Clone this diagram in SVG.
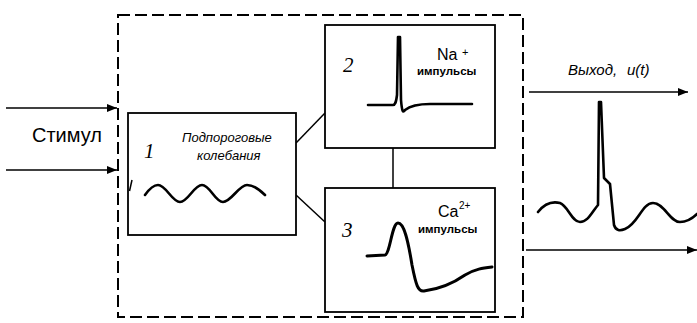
<svg xmlns="http://www.w3.org/2000/svg" width="697" height="323" viewBox="0 0 697 323">
<defs>
<style>
.box{fill:#fff;stroke:#000;stroke-width:1.8}
.dash{fill:none;stroke:#000;stroke-width:2;stroke-dasharray:12 5}
.ln{stroke:#000;stroke-width:1.5;fill:none}
.wave{fill:none;stroke:#000;stroke-width:2.6;stroke-linejoin:round;stroke-linecap:round}
.num{font-family:"Liberation Serif",serif;font-style:italic;font-size:21px;fill:#000}
.sans{font-family:"Liberation Sans",Arial,sans-serif;fill:#000}
.it{font-family:"Liberation Sans",Arial,sans-serif;font-style:italic;fill:#000}
.imp{font-family:"Liberation Sans",Arial,sans-serif;font-weight:bold;font-size:11.5px;fill:#000}
</style>
<marker id="ah" markerWidth="10" markerHeight="8" refX="10" refY="4" orient="auto" markerUnits="userSpaceOnUse">
<path d="M0,0 L10,4 L0,8 Z" fill="#000"/>
</marker>
</defs>
<rect width="697" height="323" fill="#fff"/>

<g id="system">
<rect class="dash" x="118" y="15" width="405" height="302"/>
</g>

<g id="connectors">
<line class="ln" x1="6" y1="108" x2="117" y2="108" marker-end="url(#ah)"/>
<line class="ln" x1="6" y1="170" x2="117" y2="170" marker-end="url(#ah)"/>
<line class="ln" x1="296" y1="143" x2="325" y2="113"/>
<line class="ln" x1="296" y1="195" x2="325" y2="222"/>
<line class="ln" x1="393" y1="148" x2="393" y2="188"/>
<line class="ln" x1="529" y1="92" x2="688" y2="92" marker-end="url(#ah)"/>
<line class="ln" x1="526" y1="250" x2="697" y2="250" marker-end="url(#ah)"/>
</g>

<g id="input">
<text class="sans" x="67" y="142" font-size="20" text-anchor="middle">Стимул</text>
</g>

<g id="node1">
<rect class="box" x="128" y="113" width="168" height="122"/>
<line class="ln" x1="132" y1="180" x2="129.5" y2="191"/>
<text class="num" x="144" y="158">1</text>
<text class="it" x="182" y="142" font-size="13">Подпороговые</text>
<text class="it" x="197" y="160" font-size="13">колебания</text>
<path class="wave" d="M145,195 C150,188 154,185 158,185 C166,185 172,202 180,202 C188,202 194,185 202,185 C210,185 215,202 223,202 C231,202 239,185 247,185 C254,185 260,190 265,195"/>
</g>

<g id="node2">
<rect class="box" x="325" y="25" width="170" height="123"/>
<text class="num" x="343" y="72">2</text>
<text class="sans" x="437" y="60" font-size="16">Na</text>
<text class="sans" x="462" y="56" font-size="11">+</text>
<text class="imp" x="417" y="75">импульсы</text>
<path class="wave" d="M368,105 L393,105 C395,105 396,103 397,95 L398,37 L400,37 L401,100 C402,112 403,113 405,110 C410,106 418,104 430,104 L472,104"/>
</g>

<g id="node3">
<rect class="box" x="325" y="188" width="170" height="124"/>
<text class="num" x="342" y="237">3</text>
<text class="sans" x="438" y="217" font-size="16">Ca</text>
<text class="sans" x="459" y="209" font-size="10">2+</text>
<text class="imp" x="418" y="233">импульсы</text>
<path class="wave" style="stroke-width:3" d="M367,256 L385,255 C390,254 392,223 398,223 C404,223 408,240 412,265 C416,285 418,292 424,291 C440,289 455,282 465,275 C475,269 483,268 492,267"/>
</g>

<g id="output">
<text class="it" x="568" y="75" font-size="15">Выход,</text>
<text class="it" x="627" y="75" font-size="15">u(t)</text>
<path class="wave" d="M538,212 C545,203 552,201 560,203 C568,206 572,222 580,222 C588,222 592,212 598,205 L599,102 L601,102 L604,178 L610,184 L614,225 C616,231 620,231 625,229 C638,224 642,203 653,203 C664,203 670,222 680,222 C688,222 693,218 697,214"/>
</g>
</svg>
